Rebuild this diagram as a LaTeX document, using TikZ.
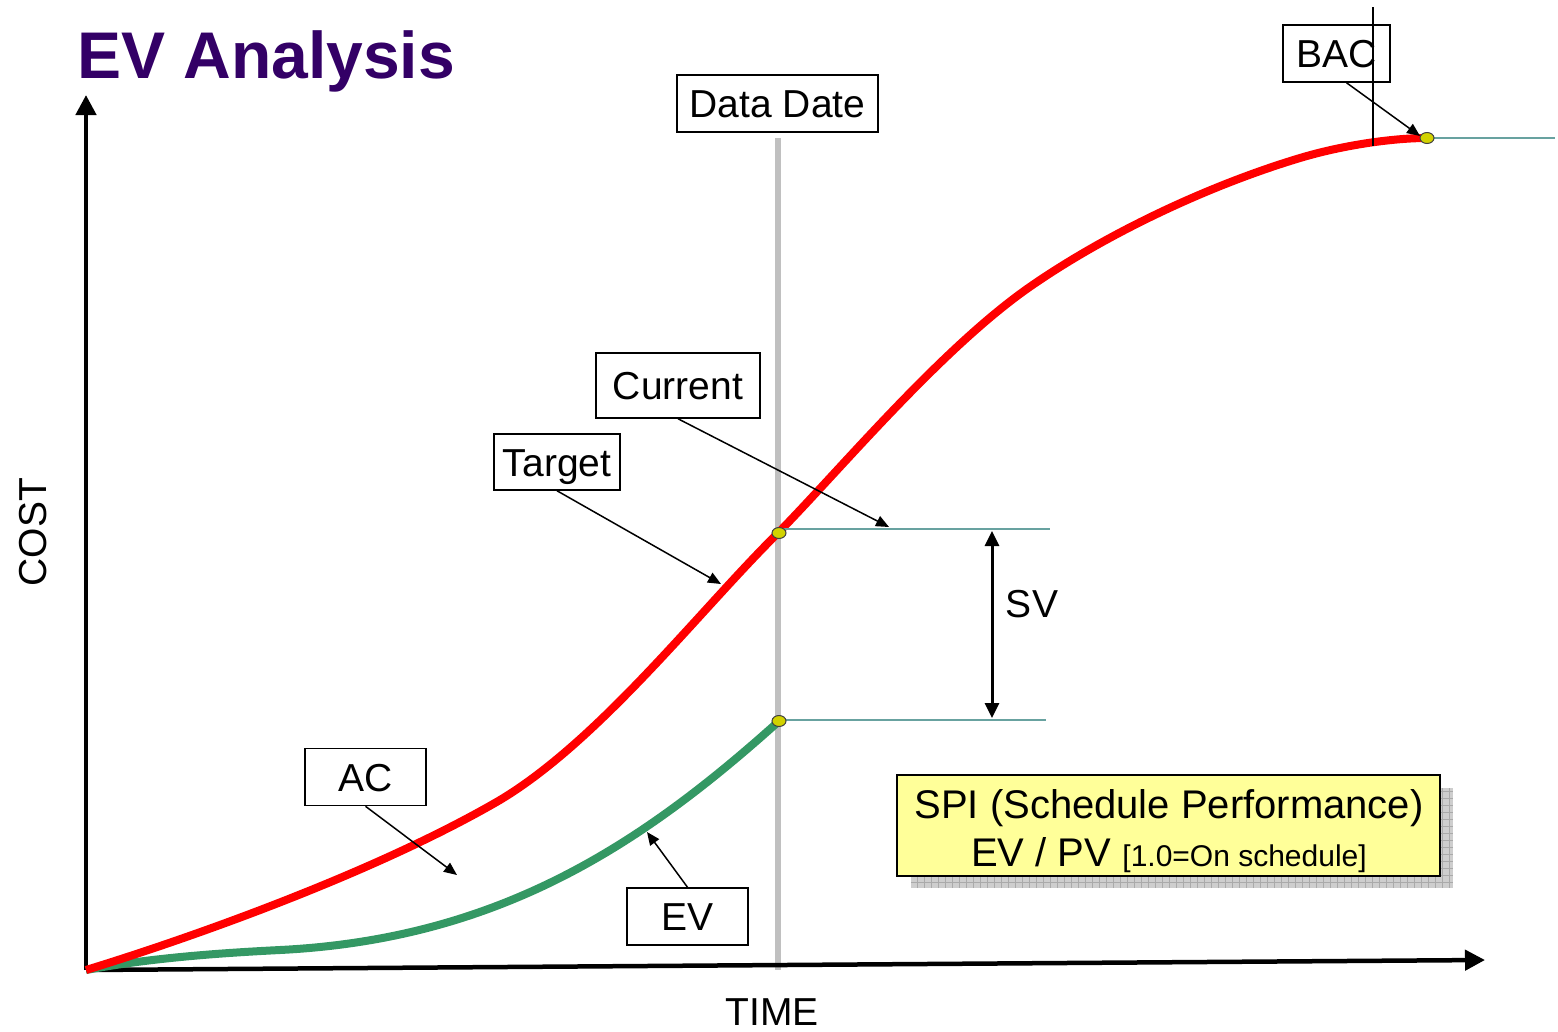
\documentclass[tikz,border=0pt]{standalone}
\usepackage{fontspec}
\setmainfont{Liberation Sans}
\usetikzlibrary{arrows.meta,shapes.geometric}

\definecolor{acred}{RGB}{255,0,0}
\definecolor{evgreen}{RGB}{52,152,100}
\definecolor{levelteal}{RGB}{104,162,160}
\definecolor{titlepurple}{RGB}{51,0,102}
\definecolor{dategray}{RGB}{192,192,192}
\definecolor{notefill}{RGB}{255,255,153}
\definecolor{dotfill}{RGB}{210,210,0}
\definecolor{shadowgray}{RGB}{206,206,206}
\definecolor{shadowgrid}{RGB}{170,170,170}

\begin{document}
\begin{tikzpicture}[x=1pt,y=-1pt,
  labelfont/.style={font=\fontsize{39}{46}\selectfont, text height=28pt, text depth=0pt},
  labelbox/.style={labelfont, draw=black, line width=1.5pt, inner sep=0pt},
  pointer/.style={line width=1.5pt, -{Triangle[length=13pt,width=11pt]}},
  axisline/.style={line width=4.5pt, -{Triangle[length=20pt,width=20pt]}},
  levelline/.style={draw=levelteal, line width=2.8pt},
  curve/.style={line width=8pt, line join=round},
  dotmark/.style={ellipse, draw=black!75, fill=dotfill, line width=1pt,
    minimum width=14pt, minimum height=11pt, inner sep=0pt}]

% page frame
\useasboundingbox (0,0) rectangle (1558,1031);

% key coordinates
\coordinate (origin) at (86,970);
\coordinate (ytip) at (86,95);
\coordinate (xtip) at (1485,960);
\coordinate (datetop) at (778,138);
\coordinate (datebot) at (778,970);
\coordinate (pvpoint) at (778,533);
\coordinate (evpoint) at (778,722);
\coordinate (bacpoint) at (1427,138);
\coordinate (upperend) at (1050,529);
\coordinate (lowerend) at (1046,720);
\coordinate (bacend) at (1555,138);
\coordinate (svtop) at (992,531);
\coordinate (svbot) at (992,718);
\coordinate (bacmarktop) at (1373,7);
\coordinate (bacmarkbot) at (1373,146);

% data date line
\draw[dategray, line width=6pt] (datetop) -- (datebot);

% axes
\draw[axisline] (origin) -- (ytip);
\draw[axisline] (origin) -- (xtip);

% earned value curve
\draw[curve, evgreen] (origin)
  .. controls (150,958) and (220,953) .. (280,950)
  .. controls (499,939) and (641,845) .. (evpoint);

% actual cost / planned curve
\draw[curve, acred] (origin)
  .. controls (200,935) and (380,870) .. (500,800)
  .. controls (600,740) and (700,610) .. (pvpoint)
  .. controls (840,470) and (944,345) .. (1034,284)
  .. controls (1110,232) and (1210,185) .. (1300,158)
  .. controls (1345,144.5) and (1395,138) .. (bacpoint);

% value levels
\draw[levelline] (778,529) -- (upperend);
\draw[levelline] (778,720) -- (lowerend);
\draw[levelline] (bacpoint) -- (bacend);

% markers on the curves
\node[dotmark] (pvdot) at (779,533) {};
\node[dotmark] (evdot) at (779,721) {};
\node[dotmark] (bacdot) at (bacpoint) {};

% schedule variance
\draw[line width=3pt, {Triangle[length=15pt,width=14pt]}-{Triangle[length=15pt,width=14pt]}] (svtop) -- (svbot);
\node[labelfont, inner sep=0pt] (sv) at (1032,603) {SV};

% BAC marker line
\draw[line width=1.3pt] (bacmarktop) -- (bacmarkbot);

% title and axis names
\node[anchor=base west, inner sep=0pt, text=titlepurple,
  font=\bfseries\fontsize{66}{70}\selectfont] (title) at (77,78) {EV Analysis};
\node[labelfont, inner sep=0pt, rotate=90] (cost) at (32,532) {COST};
\node[labelfont, inner sep=0pt] (time) at (772,1011) {TIME};

% callout boxes
\node[labelbox, minimum width=201pt, minimum height=57pt] (datedate) at (777.5,103.5) {Data Date};
\node[labelbox, minimum width=164pt, minimum height=65pt] (current) at (678,385.5) {Current};
\node[labelbox, minimum width=126pt, minimum height=56pt] (target) at (557,462) {Target};
\node[labelbox, minimum width=121pt, minimum height=57pt] (ac) at (365.5,777) {AC};
\node[labelbox, minimum width=121pt, minimum height=57pt] (ev) at (687.5,916.5) {EV};
\node[labelbox, minimum width=107pt, minimum height=57pt] (bac) at (1336.5,53.5) {BAC};

% callout pointers
\coordinate (currenttip) at (889,527);
\coordinate (targettip) at (721,584);
\coordinate (actip) at (457,875);
\coordinate (evtip) at (647,832);
\coordinate (bactip) at (1420,136);
\draw[pointer] (current.south) -- (currenttip);
\draw[pointer] (target.south) -- (targettip);
\draw[pointer] (ac.south) -- (actip);
\draw[pointer] (ev.north) -- (evtip);
\draw[pointer] ([xshift=10pt]bac.south) -- (bactip);

% SPI note with grid shadow
\fill[shadowgray] (911,788) rectangle (1453,888);
\draw[shadowgrid, line width=0.6pt, step=7pt] (911,788) grid (1453,888);
\node[draw=black, line width=2pt, fill=notefill, minimum width=543pt,
  minimum height=101pt, inner sep=0pt] (spi) at (1168.5,825.5) {};
\node[anchor=base, inner sep=0pt, font=\fontsize{40}{46}\selectfont] (spiline1)
  at (1169,818) {SPI (Schedule Performance)};
\node[anchor=base, inner sep=0pt, font=\fontsize{40}{46}\selectfont] (spiline2)
  at (1169,866) {EV / PV {\fontsize{30}{34}\selectfont [1.0=On schedule]}};

\end{tikzpicture}
\end{document}
